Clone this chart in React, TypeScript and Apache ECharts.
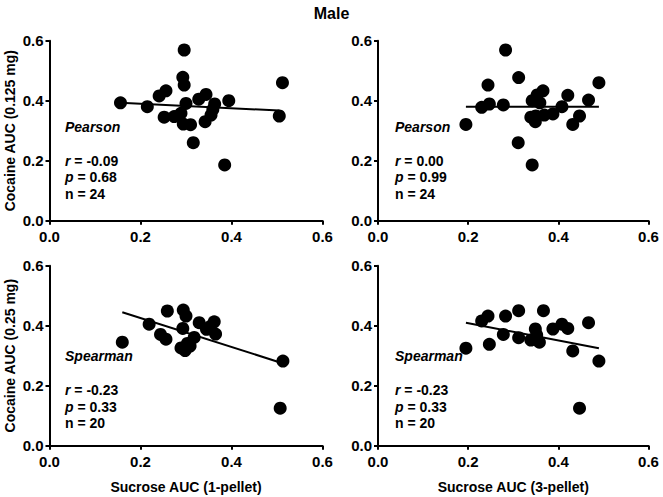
import React, { useEffect, useRef } from "react";
import * as echarts from "echarts";

const xTicks = [0, 0.2, 0.4, 0.6];
const yTicks = [0, 0.2, 0.4, 0.6];

// Top-left: Sucrose 1-pellet vs Cocaine 0.125 mg (Pearson)
const tlData: number[][] = [
  [0.156, 0.393], [0.215, 0.38], [0.241, 0.416], [0.256, 0.433], [0.252, 0.345],
  [0.274, 0.347], [0.289, 0.358], [0.296, 0.569], [0.293, 0.478], [0.296, 0.452],
  [0.3, 0.391], [0.294, 0.322], [0.31, 0.32], [0.316, 0.26], [0.328, 0.405],
  [0.344, 0.421], [0.363, 0.389], [0.359, 0.371], [0.355, 0.352], [0.342, 0.33],
  [0.394, 0.4], [0.385, 0.186], [0.512, 0.46], [0.505, 0.349],
];
const tlFit: number[][] = [[0.156, 0.393], [0.505, 0.367]];

// Top-right: Sucrose 3-pellet vs Cocaine 0.125 mg (Pearson)
const trData: number[][] = [
  [0.195, 0.321], [0.23, 0.378], [0.247, 0.389], [0.244, 0.452], [0.278, 0.386],
  [0.283, 0.569], [0.312, 0.477], [0.311, 0.26], [0.342, 0.186], [0.342, 0.4],
  [0.353, 0.419], [0.366, 0.433], [0.359, 0.393], [0.339, 0.345], [0.349, 0.33],
  [0.35, 0.349], [0.369, 0.352], [0.388, 0.356], [0.408, 0.38], [0.421, 0.418],
  [0.447, 0.349], [0.432, 0.321], [0.467, 0.402], [0.49, 0.46],
];
const trFit: number[][] = [[0.195, 0.38], [0.49, 0.38]];

// Bottom-left: Sucrose 1-pellet vs Cocaine 0.25 mg (Spearman)
const blData: number[][] = [
  [0.16, 0.345], [0.219, 0.405], [0.244, 0.371], [0.256, 0.355], [0.259, 0.449],
  [0.294, 0.452], [0.3, 0.432], [0.293, 0.391], [0.329, 0.41], [0.362, 0.413],
  [0.345, 0.388], [0.353, 0.397], [0.365, 0.372], [0.318, 0.361], [0.303, 0.341],
  [0.309, 0.332], [0.298, 0.317], [0.289, 0.326], [0.513, 0.282], [0.507, 0.125],
];
const blFit: number[][] = [[0.16, 0.445], [0.512, 0.275]];

// Bottom-right: Sucrose 3-pellet vs Cocaine 0.25 mg (Spearman)
const brData: number[][] = [
  [0.195, 0.325], [0.23, 0.416], [0.244, 0.432], [0.247, 0.338], [0.283, 0.432],
  [0.278, 0.371], [0.312, 0.45], [0.312, 0.36], [0.339, 0.352], [0.349, 0.389],
  [0.352, 0.369], [0.358, 0.345], [0.367, 0.45], [0.388, 0.389], [0.408, 0.405],
  [0.421, 0.391], [0.432, 0.316], [0.467, 0.41], [0.49, 0.282], [0.447, 0.125],
];
const brFit: number[][] = [[0.195, 0.41], [0.49, 0.325]];

const panelTests = ["Pearson", "Pearson", "Spearman", "Spearman"];
const panelR = ["-0.09", "0.00", "-0.23", "-0.23"];
const panelP = ["0.68", "0.99", "0.33", "0.33"];
const panelN = ["24", "24", "20", "20"];
const xNames = ["", "", "Sucrose AUC (1-pellet)", "Sucrose AUC (3-pellet)"];
const yNames = ["Cocaine AUC (0.125 mg)", "", "Cocaine AUC (0.25 mg)", ""];

const FONT = "Liberation Sans, Arial, sans-serif";

export default function App() {
  const ref = useRef<HTMLDivElement>(null);
  useEffect(() => {
    if (!ref.current) return;
    const chart = echarts.init(ref.current, null, { renderer: "svg" });
    const grids = [
      { left: 49.5, top: 40.7, width: 273, height: 180 },
      { left: 378, top: 40.7, width: 270.5, height: 180 },
      { left: 49.5, top: 265.7, width: 273, height: 180 },
      { left: 378, top: 265.7, width: 270.5, height: 180 },
    ];
    const datasets = [tlData, trData, blData, brData];
    const fits = [tlFit, trFit, blFit, brFit];
    const axisLine = { show: true, lineStyle: { color: "#000", width: 2 } };
    const axisTick = { show: true, inside: false, length: 4, lineStyle: { color: "#000", width: 2 } };
    const labelStyle = {
      color: "#000",
      fontWeight: "bold" as const,
      fontSize: 15,
      fontFamily: FONT,
      formatter: (v: number) => v.toFixed(1),
    };
    const nameStyle = { color: "#000", fontWeight: "bold" as const, fontSize: 14, fontFamily: FONT };
    const xAxis = grids.map((_, i) => ({
      type: "value" as const,
      gridIndex: i,
      min: xTicks[0],
      max: xTicks[xTicks.length - 1],
      interval: 0.2,
      axisLine,
      axisTick,
      splitLine: { show: false },
      axisLabel: { ...labelStyle, margin: 8 },
      name: xNames[i],
      nameLocation: "middle" as const,
      nameGap: 34,
      nameTextStyle: nameStyle,
    }));
    const yAxis = grids.map((_, i) => ({
      type: "value" as const,
      gridIndex: i,
      min: yTicks[0],
      max: yTicks[yTicks.length - 1],
      interval: 0.2,
      axisLine,
      axisTick,
      splitLine: { show: false },
      axisLabel: { ...labelStyle, margin: 6 },
      name: yNames[i],
      nameLocation: "middle" as const,
      nameGap: 33,
      nameTextStyle: nameStyle,
    }));
    const series: any[] = [];
    datasets.forEach((d, i) => {
      series.push({
        type: "scatter",
        xAxisIndex: i,
        yAxisIndex: i,
        data: d,
        symbol: "circle",
        symbolSize: 13,
        itemStyle: { color: "#000", opacity: 1 },
        z: 3,
      });
      series.push({
        type: "line",
        xAxisIndex: i,
        yAxisIndex: i,
        data: fits[i],
        symbol: "none",
        lineStyle: { color: "#000", width: 2 },
        z: 2,
      });
    });
    const textPos = [
      { x: 65, top: 127, stats: 161 },
      { x: 395, top: 127, stats: 161 },
      { x: 65, top: 356, stats: 390.5 },
      { x: 395, top: 356, stats: 390.5 },
    ];
    const graphic: any[] = [
      {
        type: "text",
        left: "center",
        top: 5,
        style: { text: "Male", font: `bold 16px ${FONT}`, fill: "#000" },
      },
    ];
    textPos.forEach((p, i) => {
      graphic.push({
        type: "text",
        x: p.x,
        y: p.top,
        style: {
          text: panelTests[i],
          font: `italic bold 14px ${FONT}`,
          fill: "#000",
          verticalAlign: "middle",
        },
      });
      graphic.push({
        type: "text",
        x: p.x,
        y: p.stats - 8.5,
        style: {
          text: `{i|r} = ${panelR[i]}\n{i|p} = ${panelP[i]}\nn = ${panelN[i]}`,
          font: `bold 14px ${FONT}`,
          fill: "#000",
          lineHeight: 16.5,
          rich: {
            i: { font: `italic bold 14px ${FONT}`, fill: "#000", lineHeight: 16.5 },
          },
        },
      });
    });
    chart.setOption({
      animation: false,
      backgroundColor: "#fff",
      grid: grids,
      xAxis,
      yAxis,
      series,
      graphic,
    });
    return () => chart.dispose();
  }, []);
  return (
    <div
      ref={ref}
      style={{ position: "fixed", left: 0, top: 0, width: 663, height: 497 }}
    />
  );
}
